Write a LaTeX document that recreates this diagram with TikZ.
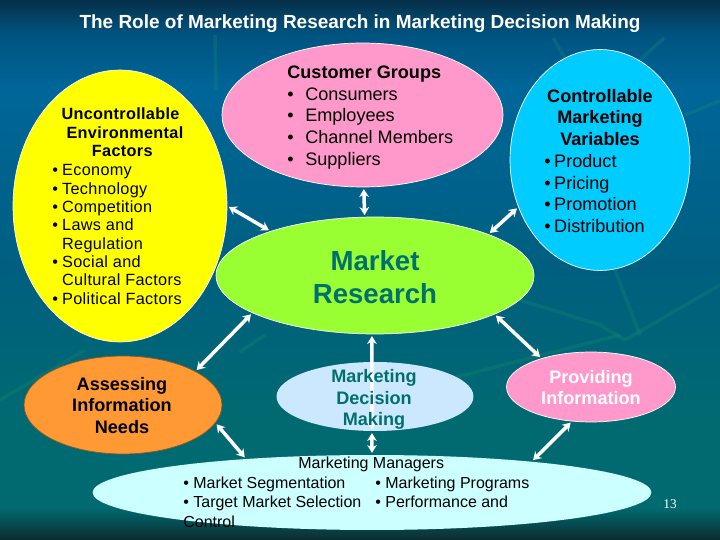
\documentclass[tikz,border=0pt]{standalone}
\usepackage{fontspec}
\setmainfont{Liberation Sans}
\newfontfamily\spacedfont[LetterSpace=2]{Liberation Sans}
\newfontfamily\numfont{Liberation Serif}
\usetikzlibrary{shapes.geometric,arrows.meta}

\definecolor{bgtop}{HTML}{06304A}
\definecolor{bgupper}{HTML}{005480}
\definecolor{bgblue}{HTML}{006699}
\definecolor{bgmid}{HTML}{005F80}
\definecolor{bglow}{HTML}{006A70}
\definecolor{bgfoot}{HTML}{0C2C30}
\definecolor{tealtext}{HTML}{00706F}
\definecolor{fernline}{HTML}{1A8A70}
\definecolor{pureyellow}{HTML}{FFFF00}
\pgfdeclareverticalshading{slidebg}{100bp}{
    color(0bp)=(bgfoot); color(25bp)=(bgfoot); color(28bp)=(bglow);
    color(36bp)=(bglow); color(50bp)=(bgmid); color(66.7bp)=(bgblue);
    color(71.8bp)=(bgupper); color(75bp)=(bgtop); color(100bp)=(bgtop)}

\newcommand{\widedot}{\makebox[10.2pt][l]{\textbullet}}
\newcommand{\tightdot}{\makebox[5.6pt][l]{\textbullet}}

\begin{document}
\begin{tikzpicture}[x=0.02cm, y=-0.02cm,
        blob/.style={ellipse, draw=white, line width=0.4pt, inner sep=0pt},
        plain/.style={inner sep=0pt, text=black, align=left, anchor=west,
            font=\fontsize{10.3}{12.3}\selectfont},
        heading/.style={plain, align=center, anchor=center,
            font=\fontsize{10.3}{12.3}\selectfont\bfseries},
        yellowtext/.style={font=\fontsize{9.25}{10.45}\selectfont\spacedfont},
        loopline/.style={line width=2pt, white, <->,
            >={Stealth[length=4.5pt, width=5.5pt]}, shorten <=1pt, shorten >=1pt},
        fern/.style={fernline, opacity=0.3, line width=2pt}]

        \useasboundingbox (0, 0) rectangle (720, 540);
        \shade[shading=slidebg] (0, 0) rectangle (720, 540);

        \draw[fern] (215, 35) -- (216, 90);
        \draw[fern] (553, 38) -- (565, 58);
        \draw[fern] (664, 38) -- (640, 60);
        \draw[fern] (685, 115) -- (720, 101);
        \draw[fern] (0, 400) -- (85, 350);
        \draw[fern] (240, 352) -- (265, 335);
        \draw[fern] (520, 300) -- (600, 325) -- (625, 340);
        \draw[fern] (625, 340) -- (720, 285);
        \draw[fern] (445, 380) -- (620, 335);
        \draw[fern] (615, 270) -- (640, 335);

        \node[blob, fill=pureyellow, minimum width=4.28cm, minimum height=5.44cm] (environment) at (120, 206) {};
        \node[blob, fill={rgb,255:red,255;green,153;blue,204}, minimum width=5.62cm, minimum height=2.88cm] (customers) at (362.5, 115) {};
        \node[blob, fill={rgb,255:red,0;green,204;blue,255}, minimum width=3.6cm, minimum height=4.42cm] (variables) at (600, 160) {};
        \node[blob, fill={rgb,255:red,153;green,255;blue,51}, minimum width=6.36cm, minimum height=2.34cm] (research) at (375, 275.5) {};
        \node[blob, draw={rgb,255:red,140;green,90;blue,40}, fill={rgb,255:red,255;green,153;blue,51}, minimum width=3.96cm, minimum height=1.96cm] (needs) at (123, 405) {};
        \node[blob, fill={rgb,255:red,204;green,232;blue,255}, draw=none, minimum width=3.94cm, minimum height=1.38cm] (decision) at (375, 396.5) {};
        \node[blob, fill={rgb,255:red,255;green,153;blue,204}, minimum width=3.38cm, minimum height=1.4cm] (providing) at (591, 387) {};
        \node[blob, fill={rgb,255:red,204;green,255;blue,255}, draw=none, minimum width=11.18cm, minimum height=1.5cm] (managers) at (372, 492.5) {};

        \draw[loopline] (environment.east) -- (research.157);
        \draw[loopline] (customers.-89) -- (research.100);
        \draw[loopline] (variables.210) -- (research.20);
        \draw[loopline] (research.197) -- (needs.25);
        \draw[loopline] (needs.-11) -- (managers.165);
        \draw[loopline] (research.267) -- (decision.265);
        \draw[loopline] (decision.265) -- (managers.north);
        \draw[loopline] (research.-18) -- (providing.150);
        \draw[loopline] (providing.241) -- (managers.11);

        \node[heading, text=white, font=\fontsize{10.8}{12}\selectfont\bfseries] (title) at (360, 24) {The Role of Marketing Research in Marketing Decision Making};

        \node[heading, yellowtext, font=\fontsize{9.25}{10.45}\selectfont\spacedfont\bfseries] (envhead) at (120.5, 132.5) {Uncontrollable\\\hspace{5pt}Environmental\\\hspace{2pt}Factors};
        \node[plain, yellowtext] (envlist) at (52, 234.5) {\tightdot Economy\\\tightdot Technology\\\tightdot Competition\\\tightdot Laws and\\\hspace*{5.6pt}Regulation\\\tightdot Social and\\\hspace*{5.6pt}Cultural Factors\\\tightdot Political Factors};

        \node[plain] (custlist) at (287, 117.5) {\textbf{Customer Groups}\\\widedot Consumers\\\widedot Employees\\\widedot Channel Members\\\widedot Suppliers};

        \node[heading] (varhead) at (600, 117.5) {Controllable\\Marketing\\Variables};
        \node[plain] (varlist) at (544, 193.5) {\tightdot Product\\\tightdot Pricing\\\tightdot Promotion\\\tightdot Distribution};

        \node[heading, text=tealtext, font=\fontsize{15.7}{18.8}\selectfont\bfseries] (reslabel) at (375, 277) {Market\\Research};
        \node[heading] (needlabel) at (122, 405.5) {Assessing\\Information\\Needs};
        \node[heading, text=tealtext] (declabel) at (374, 399.5) {Marketing\\Decision\\Making};
        \node[heading, text=white] (provlabel) at (591, 387.5) {Providing\\Information};

        \node[plain, font=\fontsize{9.1}{11.05}\selectfont] (mgrhead) at (298, 464) {Marketing Managers};
        \node[plain, font=\fontsize{9.1}{11}\selectfont] (mgrleft) at (183, 502) {\textbullet\ Market Segmentation\\\textbullet\ Target Market Selection\\Control};
        \node[plain, font=\fontsize{9.1}{11}\selectfont] (mgrright) at (375, 492.5) {\textbullet\ Marketing Programs\\\textbullet\ Performance and};

        \node[plain, text=white, font=\fontsize{7.6}{9}\selectfont\numfont] (pagenum) at (663, 504) {13};
    \end{tikzpicture}
\end{document}
